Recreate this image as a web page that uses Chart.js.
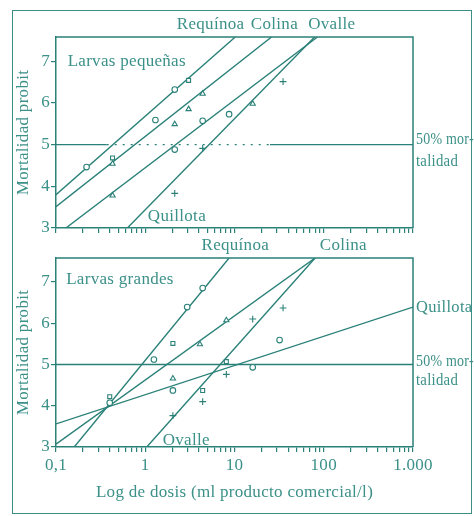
<!DOCTYPE html>
<html>
<head>
<meta charset="utf-8">
<script src="https://cdn.jsdelivr.net/npm/chart.js@4.4.1/dist/chart.umd.min.js"></script>
<style>
  html, body { margin: 0; background: #ffffff; }
  #wrap { position: relative; width: 474px; height: 516px; overflow: hidden; }
  #wrap canvas { position: absolute; left: 0; }
  #frame { position: absolute; left: 12px; top: 10px; width: 460px; height: 504px;
           border: 1.5px solid #3b8f87; box-sizing: border-box; }
</style>
</head>
<body>
<div id="wrap">
  <div id="frame"></div>
  <canvas id="smallLarvae" width="474" height="240" style="top:0"></canvas>
  <canvas id="largeLarvae" width="474" height="288" style="top:228px"></canvas>
</div>
<script>
// ---- axis values ----
const doseDecades = [0.1, 1, 10, 100, 1000];
const doseLabels = ['0,1', '1', '10', '100', '1.000'];
const probitTicks = [3, 4, 5, 6, 7];
const probitMin = 3;
const probitMax = 7.58;
const mortality50 = 5;

// ---- Larvas pequeñas: fitted probit lines (dose, probit) ----
const smallRequinoaX = [0.1, 10.2];  const smallRequinoaY = [3.8, 7.58];
const smallColinaX   = [0.1, 26];    const smallColinaY   = [3.51, 7.58];
const smallOvalleX   = [0.129, 85];  const smallOvalleY   = [3.0, 7.58];
const smallQuillotaX = [0.63, 79];   const smallQuillotaY = [3.0, 7.58];

// ---- Larvas pequeñas: observed points ----
const smallCircleX   = [0.22, 1.3, 2.14, 2.14, 4.4, 8.7];
const smallCircleY   = [4.46, 5.59, 6.32, 4.88, 5.57, 5.73];
const smallSquareX   = [0.43, 3.06];
const smallSquareY   = [4.68, 6.54];
const smallTriangleX = [0.43, 0.43, 2.14, 3.06, 4.4, 16];
const smallTriangleY = [4.54, 3.78, 5.49, 5.85, 6.22, 5.98];
const smallCrossX    = [2.14, 4.4, 35];
const smallCrossY    = [3.83, 4.91, 6.51];

// ---- Larvas grandes: fitted probit lines ----
const largeRequinoaX = [0.16, 8.7];  const largeRequinoaY = [3.0, 7.58];
const largeColinaX   = [0.1, 80];    const largeColinaY   = [3.07, 7.58];
const largeQuillotaX = [0.1, 1000];  const largeQuillotaY = [3.56, 6.39];
const largeOvalleX   = [1.04, 80];   const largeOvalleY   = [3.0, 7.58];

// ---- Larvas grandes: observed points ----
const largeCircleX   = [0.4, 1.25, 2.95, 4.4, 2.04, 16, 32];
const largeCircleY   = [4.07, 5.12, 6.39, 6.85, 4.37, 4.93, 5.59];
const largeSquareX   = [0.4, 2.04, 4.4, 8.1];
const largeSquareY   = [4.22, 5.51, 4.37, 5.07];
const largeTriangleX = [2.04, 4.1, 8.1];
const largeTriangleY = [4.66, 5.49, 6.07];
const largeCrossX    = [2.04, 4.4, 8.1, 16, 35];
const largeCrossY    = [3.76, 4.1, 4.76, 6.1, 6.37];

// ---- text placed on the panels ----
const smallLabels = [
  { text: 'Requínoa', x: 5.4,  y: 'above', align: 'center' },
  { text: 'Colina',   x: 28,   y: 'above', align: 'center' },
  { text: 'Ovalle',   x: 123,  y: 'above', align: 'center' },
  { text: 'Larvas pequeñas', x: 0.135, y: 7.0, align: 'left' },
  { text: 'Quillota', x: 1.07, y: 3.27, align: 'left' },
  { text: '50% mor-', x: 'right', y: 5.12, align: 'left', squeeze: 0.82 },
  { text: 'talidad',  x: 'right', y: 4.6, align: 'left', squeeze: 0.87 }
];
const largeLabels = [
  { text: 'Requínoa', x: 10.2, y: 'above', align: 'center' },
  { text: 'Colina',   x: 166,  y: 'above', align: 'center' },
  { text: 'Larvas grandes', x: 0.13, y: 7.07, align: 'left' },
  { text: 'Ovalle',   x: 1.57, y: 3.15, align: 'left' },
  { text: 'Quillota', x: 'right', y: 6.39, align: 'left', squeeze: 0.97 },
  { text: '50% mor-', x: 'right', y: 5.08, align: 'left', squeeze: 0.82 },
  { text: 'talidad',  x: 'right', y: 4.6, align: 'left', squeeze: 0.87 }
];

const INK = '#2a8178';
const TEXT = '#3b9088';
const FONT = '"Liberation Serif", "DejaVu Serif", serif';
const FONT_SIZE = 17;

Chart.defaults.font.family = FONT;
Chart.defaults.font.size = FONT_SIZE;
Chart.defaults.color = TEXT;

const pairs = (xs, ys) => xs.map((x, i) => ({ x, y: ys[i] }));

// 1..9 times each decade between 0.1 and 1000
const logTickValues = [];
for (let e = -1; e < 3; e++) {
  for (let m = 1; m < 10; m++) logTickValues.push(Number((m * Math.pow(10, e)).toPrecision(3)));
}
logTickValues.push(1000);

function fitLine(xs, ys) {
  return { type: 'line', data: pairs(xs, ys), borderColor: INK, borderWidth: 1.4,
           pointRadius: 0, showLine: true, fill: false, order: 2 };
}
function markers(xs, ys, style, radius) {
  return { type: 'scatter', data: pairs(xs, ys), pointStyle: style,
           pointRadius: radius, pointHoverRadius: radius,
           borderColor: INK, backgroundColor: '#ffffff', pointBorderWidth: 1.1,
           showLine: false, order: 1 };
}

// slightly open letter spacing for all text of the panel
const spacing = {
  id: 'spacing',
  beforeDraw(chart) { chart.ctx.letterSpacing = '0.3px'; }
};

const panelDecor = {
  id: 'panelDecor',
  afterDraw(chart, args, opts) {
    const { ctx, chartArea: a, scales: { x, y } } = chart;
    ctx.save();
    ctx.strokeStyle = INK;
    ctx.lineWidth = 1.5;
    ctx.beginPath();
    ctx.moveTo(a.left, a.top);
    ctx.lineTo(a.right, a.top);
    ctx.lineTo(a.right, a.bottom);
    ctx.stroke();
    ctx.fillStyle = TEXT;
    ctx.font = FONT_SIZE + 'px ' + FONT;
    ctx.textBaseline = 'middle';
    for (const l of opts.labels) {
      const px = l.x === 'right' ? a.right + 3 : x.getPixelForValue(l.x);
      const py = l.y === 'above' ? a.top - 12 : y.getPixelForValue(l.y);
      const sx = l.squeeze || 1;
      ctx.save();
      ctx.translate(px, py);
      ctx.scale(sx, 1);
      ctx.textAlign = l.align;
      ctx.fillText(l.text, 0, 0);
      ctx.restore();
    }
    ctx.restore();
  }
};

function makePanel(canvasId, datasets, labels, showDoseAxis, padding, xHeight) {
  return new Chart(document.getElementById(canvasId), {
    data: { datasets },
    options: {
      responsive: false,
      animation: false,
      events: [],
      layout: { padding },
      plugins: { legend: { display: false }, tooltip: { enabled: false }, panelDecor: { labels } },
      scales: {
        x: {
          type: 'logarithmic', min: 0.1, max: 1000, position: 'bottom',
          afterBuildTicks: s => { s.ticks = logTickValues.map(v => ({ value: v })); },
          afterFit: s => { s.height = xHeight; },
          border: { display: true, color: INK, width: 1.5 },
          grid: { display: true, drawOnChartArea: false, drawTicks: true, tickLength: 5, color: INK, lineWidth: 1.2 },
          ticks: {
            autoSkip: false, maxRotation: 0, padding: 3, color: TEXT,
            callback: v => {
              if (!showDoseAxis) return '';
              const i = doseDecades.findIndex(d => Math.abs(d - v) < 1e-9);
              return i >= 0 ? doseLabels[i] : '';
            }
          },
          title: { display: showDoseAxis, text: 'Log de dosis (ml producto comercial/l)',
                   color: TEXT, padding: { top: 4, bottom: 13 } }
        },
        y: {
          type: 'linear', min: probitMin, max: probitMax,
          afterBuildTicks: s => { s.ticks = probitTicks.map(v => ({ value: v })); },
          afterFit: s => { s.width = 56; },
          border: { display: true, color: INK, width: 1.5 },
          grid: { display: true, drawOnChartArea: false, drawTicks: true, tickLength: 5, color: INK, lineWidth: 1.2 },
          ticks: { padding: 1, color: TEXT },
          title: { display: true, text: 'Mortalidad probit', color: TEXT, padding: { top: 13, bottom: 0 } }
        }
      }
    },
    plugins: [spacing, panelDecor]
  });
}

// upper panel: small larvae; the 50 % line is broken over its middle stretch
const smallDatasets = [
  { type: 'line', data: pairs([0.1, 0.37, 25, 1000], [mortality50, mortality50, mortality50, mortality50]),
    borderColor: INK, borderWidth: 1.4, pointRadius: 0, order: 3,
    segment: { borderDash: c => (c.p0DataIndex === 1 ? [2, 6] : undefined) } },
  fitLine(smallRequinoaX, smallRequinoaY),
  fitLine(smallColinaX, smallColinaY),
  fitLine(smallOvalleX, smallOvalleY),
  fitLine(smallQuillotaX, smallQuillotaY),
  markers(smallCircleX, smallCircleY, 'circle', 2.8),
  markers(smallSquareX, smallSquareY, 'rect', 2.8),
  markers(smallTriangleX, smallTriangleY, 'triangle', 3),
  markers(smallCrossX, smallCrossY, 'cross', 3.4)
];

// lower panel: large larvae
const largeDatasets = [
  { type: 'line', data: pairs([0.1, 1000], [mortality50, mortality50]),
    borderColor: INK, borderWidth: 1.4, pointRadius: 0, order: 3 },
  fitLine(largeRequinoaX, largeRequinoaY),
  fitLine(largeColinaX, largeColinaY),
  fitLine(largeQuillotaX, largeQuillotaY),
  fitLine(largeOvalleX, largeOvalleY),
  markers(largeCircleX, largeCircleY, 'circle', 2.8),
  markers(largeSquareX, largeSquareY, 'rect', 2.8),
  markers(largeTriangleX, largeTriangleY, 'triangle', 3),
  markers(largeCrossX, largeCrossY, 'cross', 3.4)
];

makePanel('smallLarvae', smallDatasets, smallLabels, false, { left: 0, top: 37, right: 61, bottom: 6 }, 6);
makePanel('largeLarvae', largeDatasets, largeLabels, true, { left: 0, top: 30, right: 61, bottom: 0 }, 69);
</script>
</body>
</html>
